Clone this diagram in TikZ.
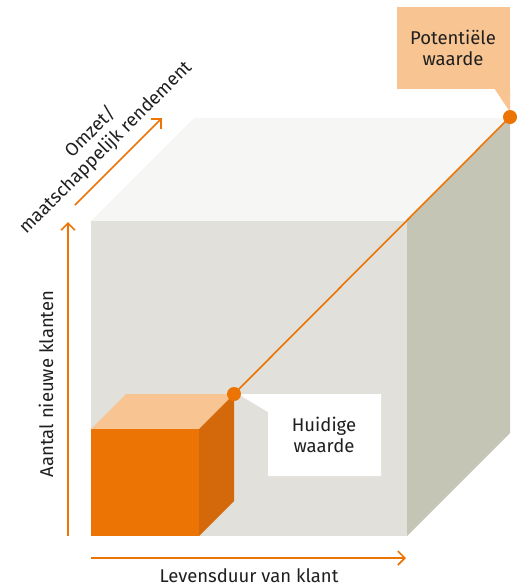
\documentclass[tikz,border=0pt]{standalone}
\usepackage{fontspec}
\setmainfont{Fira Sans}
\usetikzlibrary{arrows.meta}
\definecolor{org}{HTML}{EC7404}
\definecolor{lorg}{HTML}{F8C592}
\definecolor{dorg}{HTML}{D4690C}
\definecolor{front}{HTML}{E1E0DA}
\definecolor{topf}{HTML}{F6F6F4}
\definecolor{side}{HTML}{C5C5B6}
\tikzset{
  axis/.style={draw=org, line width=1.6pt, -{Straight Barb[length=7pt,width=14pt,line width=1.6pt]}},
  lbl/.style={font=\fontsize{18.5}{21.5}\selectfont, text=black!88, align=center, inner sep=0pt},
  dotn/.style={circle, fill=org, minimum size=14pt, inner sep=0pt}
}
\begin{document}
\begin{tikzpicture}[x=1pt,y=-1pt]
\useasboundingbox (0,0) rectangle (522,587);
% big cube
\fill[topf] (91,221) -- (194,118) -- (510,118) -- (407,221) -- cycle;
\fill[side] (407,221) -- (510,118) -- (510,433) -- (407,536) -- cycle;
\fill[front] (91,221) rectangle (407,536);
% small cube
\fill[lorg] (91,429) -- (126,394) -- (234,394) -- (199,429) -- cycle;
\fill[dorg] (199,429) -- (234,394) -- (234,501) -- (199,536) -- cycle;
\fill[org] (91,429) rectangle (199,536);
% callouts
\fill[white] (238,394) -- (381,394) -- (381,476) -- (268,476) -- (268,412) -- cycle;
\node[lbl] (hw) at (324,435) {Huidige\\waarde};
\fill[lorg] (397,7) rectangle (510,89);
\fill[lorg] (494,88) -- (510,88) -- (510,112) -- cycle;
\node[lbl] (pw) at (453,48) {Potentiële\\waarde};
% dots and line
\node[dotn] (d1) at (234,394) {};
\node[dotn] (d2) at (510,117) {};
\draw[org, line width=1.6pt] (d1.center) -- (d2.center);
% axes
\coordinate (v0) at (68,536); \coordinate (v1) at (68,222);
\coordinate (h0) at (91,558); \coordinate (h1) at (406,558);
\coordinate (g0) at (75,205); \coordinate (g1) at (162,118);
\draw[axis] (v0) -- (v1);
\draw[axis] (h0) -- (h1);
\draw[axis] (g0) -- (g1);
\node[lbl] (lx) at (249,576) {Levensduur van klant};
\node[lbl, rotate=90] (ly) at (46,384) {Aantal nieuwe klanten};
\node[lbl, rotate=45] (lz) at (98,140) {Omzet/\\maatschappelijk rendement};
\end{tikzpicture}
\end{document}
